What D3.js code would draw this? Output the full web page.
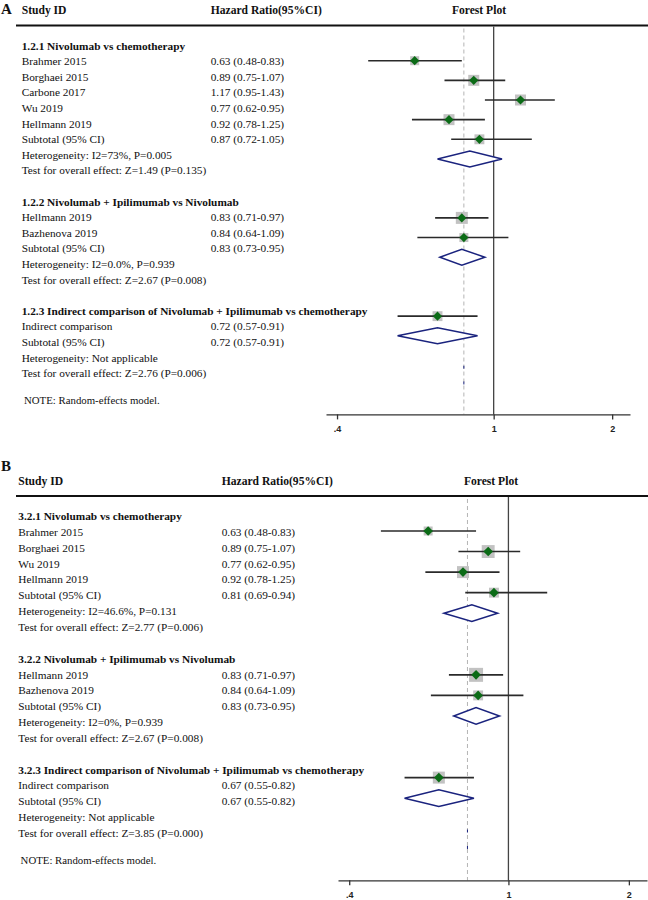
<!DOCTYPE html>
<html>
<head>
<meta charset="utf-8">
<script src="https://cdn.jsdelivr.net/npm/d3@7"></script>
<style>
  html, body { margin: 0; padding: 0; background: #fff; }
  svg { display: block; }
</style>
</head>
<body>
<svg id="chart" width="648" height="900"></svg>
<script>
// ---------------- Panel A data ----------------
const aGroups = ["1.2.1 Nivolumab vs chemotherapy",
                 "1.2.2 Nivolumab + Ipilimumab vs Nivolumab",
                 "1.2.3 Indirect comparison of Nivolumab + Ipilimumab vs chemotherapy"];
const aStudies = ["Brahmer 2015", "Borghaei 2015", "Carbone 2017", "Wu 2019", "Hellmann 2019",
                  "Hellmann 2019", "Bazhenova 2019", "Indirect comparison"];
const aStudyGroup = [0, 0, 0, 0, 0, 1, 1, 2];
const aHR = [0.63, 0.89, 1.17, 0.77, 0.92, 0.83, 0.84, 0.72];
const aLo = [0.48, 0.75, 0.95, 0.62, 0.78, 0.71, 0.64, 0.57];
const aHi = [0.83, 1.07, 1.43, 0.95, 1.25, 0.97, 1.09, 0.91];
const aWeight = [14, 21, 21, 21, 17, 25, 14, 17];
const aSubHR = [0.87, 0.83, 0.72];
const aSubLo = [0.72, 0.73, 0.57];
const aSubHi = [1.05, 0.95, 0.91];
const aHet = ["Heterogeneity: I2=73%, P=0.005", "Heterogeneity: I2=0.0%, P=0.939", "Heterogeneity: Not applicable"];
const aTest = ["Test for overall effect: Z=1.49 (P=0.135)", "Test for overall effect: Z=2.67 (P=0.008)",
               "Test for overall effect: Z=2.76 (P=0.006)"];
const aPooled = 0.84;

// ---------------- Panel B data ----------------
const bGroups = ["3.2.1 Nivolumab vs chemotherapy",
                 "3.2.2 Nivolumab + Ipilimumab vs Nivolumab",
                 "3.2.3 Indirect comparison of Nivolumab + Ipilimumab vs chemotherapy"];
const bStudies = ["Brahmer 2015", "Borghaei 2015", "Wu 2019", "Hellmann 2019",
                  "Hellmann 2019", "Bazhenova 2019", "Indirect comparison"];
const bStudyGroup = [0, 0, 0, 0, 1, 1, 2];
const bHR = [0.63, 0.89, 0.77, 0.92, 0.83, 0.84, 0.67];
const bLo = [0.48, 0.75, 0.62, 0.78, 0.71, 0.64, 0.55];
const bHi = [0.83, 1.07, 0.95, 1.25, 0.97, 1.09, 0.82];
const bWeight = [14, 29, 25, 17, 34, 17, 25];
const bSubHR = [0.81, 0.83, 0.67];
const bSubLo = [0.69, 0.73, 0.55];
const bSubHi = [0.94, 0.95, 0.82];
const bHet = ["Heterogeneity: I2=46.6%, P=0.131", "Heterogeneity: I2=0%, P=0.939", "Heterogeneity: Not applicable"];
const bTest = ["Test for overall effect: Z=2.77 (P=0.006)", "Test for overall effect: Z=2.67 (P=0.008)",
               "Test for overall effect: Z=3.85 (P=0.000)"];
const bPooled = 0.79;

// ---------------- shared ----------------
const tickValues = [0.4, 1, 2];
const tickLabels = [".4", "1", "2"];
const axisDomain = [0.375, 2.22];
const headerLabels = ["Study ID", "Hazard Ratio(95%CI)", "Forest Plot"];
const noteText = "NOTE: Random-effects model.";
const subtotalLabel = "Subtotal (95% CI)";

const SERIF = "'Liberation Serif', 'Times New Roman', serif";
const SANS = "'Liberation Sans', Arial, sans-serif";
const svg = d3.select("#chart");

const fmt = v => v.toFixed(2);
const ciText = (h, l, u) => `${fmt(h)} (${fmt(l)}-${fmt(u)})`;

function drawPanel(cfg, d) {
  const g = svg.append("g");

  // row layout
  const textRows = [], plotRows = [];
  let tRow = 0, pRow = 0, lastTest = 0;
  d.groups.forEach((name, gi) => {
    textRows.push({type: "head", label: name, row: tRow});
    tRow++; pRow++;
    d.studies.forEach((s, i) => {
      if (d.studyGroup[i] !== gi) return;
      textRows.push({type: "study", label: s, hr: ciText(d.hr[i], d.lo[i], d.hi[i]), row: tRow});
      plotRows.push({type: "study", hr: d.hr[i], lo: d.lo[i], hi: d.hi[i], w: d.weight[i], row: pRow});
      tRow++; pRow++;
    });
    textRows.push({type: "study", label: subtotalLabel,
                   hr: ciText(d.subHR[gi], d.subLo[gi], d.subHi[gi]), row: tRow});
    plotRows.push({type: "sub", hr: d.subHR[gi], lo: d.subLo[gi], hi: d.subHi[gi], row: pRow});
    tRow++; pRow++;
    textRows.push({type: "study", label: d.het[gi], row: tRow}); tRow++;
    textRows.push({type: "study", label: d.test[gi], row: tRow}); lastTest = tRow; tRow++;
    tRow++; pRow++;
  });
  const lastSub = pRow - 2;

  const ty = d3.scaleLinear().domain([0, 1]).range([cfg.textY0, cfg.textY0 + cfg.textStep]);
  const py = d3.scaleLinear().domain([1, 2]).range([cfg.plotY0, cfg.plotY0 + cfg.plotStep]);
  const x = d3.scaleLog().domain(axisDomain).range(cfg.xRange);
  const boxSize = d3.scaleSqrt().domain([0, 100]).range([0, 24]);
  const axisY = py(lastSub + 4);

  // panel letter
  g.append("text").attr("x", cfg.letterX).attr("y", cfg.letterY)
    .attr("font-family", SERIF).attr("font-weight", "bold").attr("font-size", 15)
    .attr("fill", "#111").text(cfg.letter);

  // headers
  const hx = [cfg.nameX, cfg.hrX, cfg.forestX];
  const ha = ["start", "start", "middle"];
  headerLabels.forEach((h, i) => {
    g.append("text").attr("x", hx[i]).attr("y", cfg.headerY)
      .attr("dominant-baseline", "central").attr("text-anchor", ha[i])
      .attr("font-family", SERIF).attr("font-weight", "bold").attr("font-size", cfg.headSize)
      .attr("fill", "#111").text(h);
  });
  g.append("line").attr("x1", cfg.ruleX0).attr("x2", 648)
    .attr("y1", cfg.ruleY).attr("y2", cfg.ruleY)
    .attr("stroke", "#111").attr("stroke-width", 2.2);

  // text rows
  textRows.forEach(r => {
    const isHead = r.type === "head";
    g.append("text").attr("x", isHead ? cfg.headX : cfg.nameX).attr("y", ty(r.row))
      .attr("dominant-baseline", "central")
      .attr("font-family", SERIF).attr("font-weight", isHead ? "bold" : "normal")
      .attr("font-size", cfg.fontSize).attr("fill", "#111").text(r.label);
    if (r.hr) {
      g.append("text").attr("x", cfg.hrX).attr("y", ty(r.row))
        .attr("dominant-baseline", "central")
        .attr("font-family", SERIF).attr("font-size", cfg.fontSize).attr("fill", "#111").text(r.hr);
    }
  });
  g.append("text").attr("x", cfg.noteX).attr("y", ty(lastTest + 1.7))
    .attr("dominant-baseline", "central")
    .attr("font-family", SERIF).attr("font-size", cfg.fontSize - 0.5).attr("fill", "#111").text(noteText);

  // reference lines
  g.append("line").attr("x1", x(d.pooled)).attr("x2", x(d.pooled))
    .attr("y1", cfg.ruleY + 3).attr("y2", axisY)
    .attr("stroke", "#b4b4b4").attr("stroke-width", 1).attr("stroke-dasharray", "4,3");
  g.append("line").attr("x1", x(1)).attr("x2", x(1))
    .attr("y1", cfg.ruleY + 1).attr("y2", axisY)
    .attr("stroke", "#444").attr("stroke-width", 1.3);

  // tiny residual marks on pooled line
  [1.6, 2.4].forEach(o => {
    g.append("line").attr("x1", x(d.pooled)).attr("x2", x(d.pooled))
      .attr("y1", py(lastSub + o) - 1.5).attr("y2", py(lastSub + o) + 1.5)
      .attr("stroke", "#1a237e").attr("stroke-width", 1);
  });

  // studies
  plotRows.filter(r => r.type === "study").forEach(r => {
    const cy = py(r.row), cx = x(r.hr), s = boxSize(r.w);
    g.append("rect").attr("x", cx - s / 2).attr("y", cy - s / 2).attr("width", s).attr("height", s)
      .attr("fill", "#c2c2c2");
    g.append("line").attr("x1", x(r.lo)).attr("x2", x(r.hi)).attr("y1", cy).attr("y2", cy)
      .attr("stroke", "#2a2a2a").attr("stroke-width", 1.6);
    const dm = cfg.markHalf;
    g.append("path")
      .attr("d", `M${cx - dm},${cy}L${cx},${cy - dm}L${cx + dm},${cy}L${cx},${cy + dm}Z`)
      .attr("fill", "#0b6b16");
  });
  // subtotals
  plotRows.filter(r => r.type === "sub").forEach(r => {
    const cy = py(r.row), h = cfg.diaHalf;
    g.append("path")
      .attr("d", `M${x(r.lo)},${cy}L${x(r.hr)},${cy - h}L${x(r.hi)},${cy}L${x(r.hr)},${cy + h}Z`)
      .attr("fill", "#fff").attr("stroke", "#1a237e").attr("stroke-width", 1.5);
  });

  // axis
  const ax = g.append("g").attr("transform", `translate(0,${axisY})`)
    .call(d3.axisBottom(x).tickValues(tickValues).tickFormat((v, i) => tickLabels[i])
      .tickSize(5).tickSizeOuter(0).tickPadding(6));
  ax.select(".domain").attr("stroke", "#333").attr("stroke-width", 1.3);
  ax.selectAll(".tick line").attr("stroke", "#333").attr("stroke-width", 1.3);
  ax.selectAll(".tick text").attr("font-family", SANS).attr("font-weight", "bold")
    .attr("font-size", 9).attr("fill", "#222");
}

drawPanel({
  letter: "A", letterX: 1, letterY: 14,
  headerY: 10.5, ruleY: 25.5, ruleX0: 16,
  textY0: 45.5, textStep: 15.6, plotY0: 60.7, plotStep: 19.65,
  xRange: [326, 630], nameX: 21.7, headX: 21.7, hrX: 210.7, forestX: 479, noteX: 24,
  fontSize: 11.3, headSize: 11.6, markHalf: 4.6, diaHalf: 8
}, {
  groups: aGroups, studies: aStudies, studyGroup: aStudyGroup, hr: aHR, lo: aLo, hi: aHi,
  weight: aWeight, subHR: aSubHR, subLo: aSubLo, subHi: aSubHi, het: aHet, test: aTest, pooled: aPooled
});

drawPanel({
  letter: "B", letterX: 1, letterY: 471,
  headerY: 481, ruleY: 496, ruleX0: 16,
  textY0: 516, textStep: 15.85, plotY0: 531, plotStep: 20.55,
  xRange: [338, 647], nameX: 18.3, headX: 18.3, hrX: 221.7, forestX: 491, noteX: 20.6,
  fontSize: 11.3, headSize: 11.6, markHalf: 4.8, diaHalf: 8.3
}, {
  groups: bGroups, studies: bStudies, studyGroup: bStudyGroup, hr: bHR, lo: bLo, hi: bHi,
  weight: bWeight, subHR: bSubHR, subLo: bSubLo, subHi: bSubHi, het: bHet, test: bTest, pooled: bPooled
});
</script>
</body>
</html>
